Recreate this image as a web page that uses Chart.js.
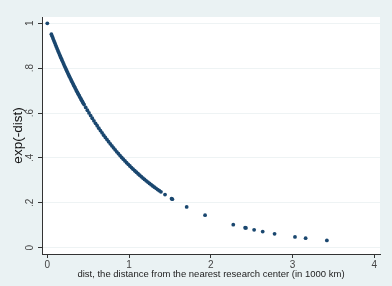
<!DOCTYPE html>
<html>
<head>
<meta charset="utf-8">
<script src="https://cdn.jsdelivr.net/npm/chart.js@4"></script>
<style>
  body { margin: 0; background: #eaf2f3; }
</style>
</head>
<body>
<canvas id="distChart" width="392" height="286"></canvas>
<script>
// distances (1000 km) and exp(-dist)
const dist = [
  0,
  0.05, 0.06, 0.07, 0.08, 0.09, 0.10, 0.11, 0.12, 0.13, 0.14, 0.15, 0.16, 0.17, 0.18, 0.19, 0.20,
  0.21, 0.22, 0.23, 0.24, 0.25, 0.26, 0.27, 0.28, 0.29, 0.30, 0.31, 0.32, 0.33, 0.34, 0.35, 0.36,
  0.37, 0.38, 0.39, 0.40, 0.41, 0.42, 0.43, 0.44, 0.45, 0.47, 0.49, 0.51, 0.53, 0.55, 0.57, 0.59,
  0.61, 0.63, 0.65, 0.67, 0.69, 0.71, 0.73, 0.75, 0.77, 0.79, 0.81, 0.83, 0.85, 0.87, 0.89, 0.91,
  0.93, 0.95, 0.97, 0.99, 1.01, 1.03, 1.05, 1.07, 1.09, 1.11, 1.13, 1.15, 1.17, 1.19, 1.21, 1.23,
  1.25, 1.27, 1.29, 1.31, 1.33, 1.35, 1.37, 1.39,
  1.44, 1.52, 1.53, 1.705, 1.93, 2.275, 2.42, 2.43, 2.53, 2.635, 2.78, 3.03, 3.16, 3.42
];
const expDist = [
  1,
  0.9512, 0.9418, 0.9324, 0.9231, 0.9139, 0.9048, 0.8958, 0.8869, 0.8781, 0.8694, 0.8607, 0.8521, 0.8437, 0.8353, 0.8270, 0.8187,
  0.8106, 0.8025, 0.7945, 0.7866, 0.7788, 0.7711, 0.7634, 0.7558, 0.7483, 0.7408, 0.7334, 0.7261, 0.7189, 0.7118, 0.7047, 0.6977,
  0.6907, 0.6839, 0.6771, 0.6703, 0.6637, 0.6570, 0.6505, 0.6440, 0.6376, 0.6250, 0.6126, 0.6005, 0.5886, 0.5769, 0.5655, 0.5543,
  0.5434, 0.5326, 0.5220, 0.5117, 0.5016, 0.4916, 0.4819, 0.4724, 0.4630, 0.4538, 0.4449, 0.4360, 0.4274, 0.4190, 0.4107, 0.4025,
  0.3946, 0.3867, 0.3791, 0.3716, 0.3642, 0.3570, 0.3499, 0.3430, 0.3362, 0.3296, 0.3230, 0.3166, 0.3104, 0.3042, 0.2982, 0.2923,
  0.2865, 0.2808, 0.2753, 0.2698, 0.2645, 0.2592, 0.2541, 0.2491,
  0.2369, 0.2187, 0.2165, 0.1818, 0.1451, 0.1028, 0.0889, 0.0880, 0.0797, 0.0717, 0.0620, 0.0483, 0.0424, 0.0327
];
const xTicks = [0, 1, 2, 3, 4];
const yTicks = [0, 0.2, 0.4, 0.6, 0.8, 1];
const yTickLabels = ['0', '.2', '.4', '.6', '.8', '1'];

const points = dist.map((d, i) => ({ x: d, y: expDist[i] }));

// white plot region
const plotBg = {
    id: 'plotBg',
    beforeDraw(chart) {
        const a = chart.chartArea;
        const ctx = chart.ctx;
        ctx.save();
        ctx.fillStyle = '#ffffff';
        ctx.fillRect(a.left, a.top, a.right - a.left, a.bottom - a.top);
        ctx.restore();
    }
};

const ctx = document.getElementById('distChart').getContext('2d');
const distChart = new Chart(ctx, {
    type: 'scatter',
    data: {
        datasets: [{
            data: points,
            backgroundColor: '#1a476f',
            borderWidth: 0,
            pointRadius: 1.9
        }]
    },
    options: {
        responsive: false,
        animation: false,
        layout: { padding: { top: 17, right: 12, left: 0, bottom: 0 } },
        plugins: { legend: { display: false }, tooltip: { enabled: false } },
        scales: {
            x: {
                type: 'linear',
                min: -0.065,
                max: 4.07,
                afterBuildTicks: s => { s.ticks = xTicks.map(v => ({ value: v })); },
                afterFit: s => { s.height = 32; },
                grid: { drawOnChartArea: false, tickLength: 4, tickColor: '#333', color: '#333' },
                border: { color: '#333', width: 1 },
                ticks: {
                    padding: 1,
                    color: '#444',
                    font: { family: 'Liberation Sans', size: 10 },
                    maxRotation: 0
                },
                title: {
                    display: true,
                    text: 'dist, the distance from the nearest research center (in 1000 km)',
                    color: '#222',
                    font: { family: 'Liberation Sans', size: 9.5 },
                    padding: { top: 0, bottom: 6 }
                }
            },
            y: {
                min: -0.028,
                max: 1.028,
                afterBuildTicks: s => { s.ticks = yTicks.map(v => ({ value: v })); },
                afterFit: s => { s.width = 42; },
                grid: { color: '#eef3f4', tickColor: '#333', tickLength: 4 },
                border: { color: '#333', width: 1 },
                ticks: {
                    minRotation: 90,
                    maxRotation: 90,
                    crossAlign: 'center',
                    padding: 4,
                    color: '#444',
                    font: { family: 'Liberation Sans', size: 10 },
                    callback: v => yTickLabels[yTicks.indexOf(v)] ?? ''
                },
                title: {
                    display: true,
                    text: 'exp(-dist)',
                    color: '#111',
                    font: { family: 'Liberation Sans', size: 13.5 },
                    padding: { top: 10.5, bottom: 0 }
                }
            }
        }
    },
    plugins: [plotBg]
});
</script>
</body>
</html>
